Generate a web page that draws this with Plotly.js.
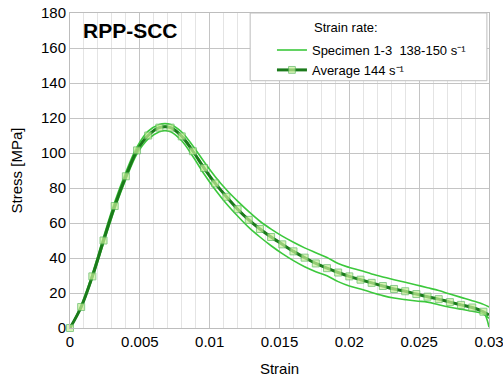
<!DOCTYPE html>
<html>
<head>
<meta charset="utf-8">
<script src="https://cdn.plot.ly/plotly-3.0.1.min.js"></script>
<style>html,body{margin:0;padding:0;background:#fff;}#chart{width:503px;height:382px;}</style>
</head>
<body>
<div id="chart"></div>
<script>
// Average curve (markers)
const avgStrain = [0,0.0008,0.0016,0.0024,0.0032,0.004,0.0048,0.0056,0.0064,0.0072,0.008,0.0088,0.0096,0.0104,0.0112,0.012,0.0128,0.0136,0.0144,0.0152,0.016,0.0168,0.0176,0.0184,0.0192,0.02,0.0208,0.0216,0.0224,0.0232,0.024,0.0248,0.0256,0.0264,0.0272,0.028,0.0288,0.0296,0.03];
const avgStress = [0,12,29.5,50,69.7,86.7,101.5,110,114.5,114.5,109.5,101,91.4,82.6,75,67.9,61.8,56.6,52,47.8,43.8,40.2,36.9,34.2,31.7,29.5,27.6,25.8,24,22.3,21,19.4,17.9,16.5,14.8,13.2,11.7,9.3,7.4];

// Specimens
const specStrain = [0,0.0008,0.0016,0.0024,0.0032,0.004,0.0048,0.0056,0.0064,0.0068,0.0072,0.008,0.0088,0.0096,0.0104,0.0112,0.012,0.0128,0.0136,0.0144,0.0152,0.016,0.0168,0.0176,0.0184,0.0192,0.02,0.0208,0.0216,0.0224,0.0232,0.024,0.0248,0.0256,0.0264,0.0272,0.028,0.0288,0.0296,0.03];
const spec1Stress = [0,13,31,52,72,89,103.5,112.5,116.3,116.8,116.3,112,104,95,86.5,79,72.5,66.5,61,56.5,52.5,49,45.8,43,40.3,36.8,34.6,32.8,30.9,29.2,27.6,26.1,24.6,23,21.4,19.4,17.5,15.6,13.5,12];
const spec2Stress = [0,11.5,28.5,48.5,68,85,99.5,108,112.2,112.8,112.2,107,98,88,79,71,64,57.5,52,47,42.5,38.5,35,32.2,29.8,26.5,24,22.3,20.3,18.5,17.1,16.2,15.4,14.8,13.3,11.9,10.7,9.6,8,5.5];
const spec3Stress = [0,12,29.8,50.3,70,87,101.8,110.5,114.8,115.2,114.8,110,101.5,91.8,83,75.3,68.2,62,56.8,52.2,48,44,40.4,37.1,34.4,31.8,29.6,27.7,25.9,24.1,22.4,21.1,19.5,18,16.6,14.9,13.3,11.8,9,0.5];

const tickVals = [0,0.005,0.01,0.015,0.02,0.025,0.03];
const tickText = ['0','0.005','0.01','0.015','0.02','0.025','0.03'];

const specColor = '#3cc83c';
const avgColor = '#1b7a1b';

const traces = [
  {x: specStrain, y: spec1Stress, mode:'lines', line:{color:specColor, width:1.6, shape:'spline'}, name:'Specimen 1-3  138-150 s\u207B\u00B9', showlegend:true, legendrank:1, cliponaxis:false},
  {x: specStrain, y: spec2Stress, mode:'lines', line:{color:specColor, width:1.6, shape:'spline'}, showlegend:false, cliponaxis:false},
  {x: specStrain, y: spec3Stress, mode:'lines', line:{color:specColor, width:1.6, shape:'spline'}, showlegend:false, cliponaxis:false},
  {x: avgStrain, y: avgStress, mode:'lines+markers', line:{color:avgColor, width:3, shape:'spline'}, cliponaxis:false,
   marker:{symbol:'square', size: avgStrain.map((v,i)=> i===avgStrain.length-1 ? 0 : 7), color:'#c8f09a', line:{color:'#5cb85c', width:1}},
   name:'Average 144 s\u207B\u00B9', showlegend:true, legendrank:2}
];

const layout = {
  width:503, height:382,
  margin:{l:70, r:14, t:13, b:54},
  paper_bgcolor:'#fff', plot_bgcolor:'#fff',
  font:{family:'Liberation Sans, Arial, sans-serif', color:'#000'},
  showlegend:true,
  legend:{x:0.482, y:0.93, xanchor:'left', yanchor:'top', bgcolor:'rgba(0,0,0,0)', borderwidth:0, font:{size:13, color:'#000'}, tracegroupgap:0, itemwidth:30},
  xaxis:{range:[0,0.030001], tickvals:tickVals, ticktext:tickText, showgrid:true, gridcolor:'#c4c4c4', gridwidth:1,
    minor:{dtick:0.001, showgrid:true, gridcolor:'#e4e4e4', gridwidth:1},
    zeroline:false, showline:true, linecolor:'#bdbdbd', mirror:true, ticks:'', tickfont:{size:15}, ticklen:0,
    ticklabeloverflow:'allow', automargin:false,
    title:{text:'Strain', font:{size:15}, standoff:14}},
  yaxis:{range:[0,180], dtick:20, tick0:0, showgrid:true, gridcolor:'#c4c4c4', gridwidth:1, zeroline:false,
    showline:true, linecolor:'#bdbdbd', mirror:true, ticks:'', tickfont:{size:15},
    title:{text:'Stress [MPa]', font:{size:15}, standoff:14}},
  shapes:[
    {type:'rect', xref:'paper', yref:'paper', x0:0.43, x1:0.995, y0:0.785, y1:1, fillcolor:'#fff', line:{color:'#bdbdbd', width:1}, layer:'above'}
  ],
  annotations:[
    {xref:'paper', yref:'paper', x:0.145, y:0.945, xanchor:'center', yanchor:'middle', text:'<b>RPP-SCC</b>', showarrow:false, font:{size:21, color:'#000'}},
    {xref:'paper', yref:'paper', x:0.577, y:0.955, xanchor:'left', yanchor:'middle', text:'Strain rate:', showarrow:false, font:{size:13, color:'#000'}}
  ]
};

Plotly.newPlot('chart', traces, layout, {displayModeBar:false, staticPlot:true});
</script>
</body>
</html>
